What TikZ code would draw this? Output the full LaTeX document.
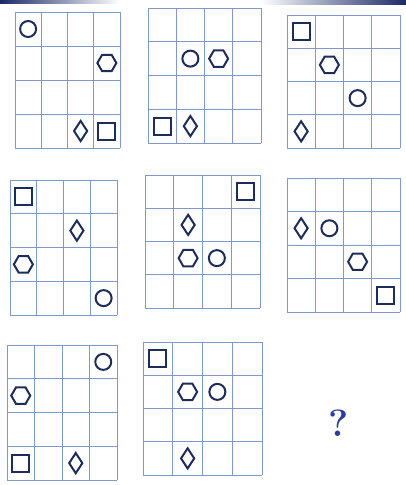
\documentclass[tikz,border=0pt]{standalone}
\usetikzlibrary{shapes.geometric}
\definecolor{gridc}{HTML}{7F99CF}
\definecolor{shp}{HTML}{1E2C5C}
\definecolor{quest}{HTML}{2B3E9E}
\definecolor{rim}{HTML}{1A2A66}

\begin{document}
\begin{tikzpicture}[
  x=1pt, y=-1pt,
  gline/.style={gridc, line width=1pt},
  circ/.style={circle, draw=shp, line width=2pt, minimum size=16pt, inner sep=0pt},
  hexa/.style={regular polygon, regular polygon sides=6, draw=shp, line width=2pt,
    minimum size=19pt, inner sep=0pt},
  diam/.style={diamond, draw=shp, line width=2pt, minimum width=14pt,
    minimum height=21pt, inner sep=0pt},
  sqr/.style={rectangle, draw=shp, line width=2pt, minimum size=17pt, inner sep=0pt},
]
\useasboundingbox (0,0) rectangle (406,485);

% ---- dark rim of the photographed page ----
\shade[left color=rim, right color=white] (0,0) rectangle (120,3);
\shade[left color=white, right color=rim] (260,0) rectangle (406,4);

% ---- the eight 4x4 grids: number / top-left / size / shapes (kind/col/row) ----
\foreach \gn/\gx/\gy/\gw/\gh/\items in {
    1/15/12/105/136/{circ/0/0,hexa/3/1,diam/2/3,sqr/3/3},
    2/148/8/113/135/{circ/1/1,hexa/2/1,sqr/0/3,diam/1/3},
    3/287/15/113/133/{sqr/0/0,hexa/1/1,circ/2/2,diam/0/3},
    4/10/180/107/135/{sqr/0/0,diam/2/1,hexa/0/2,circ/3/3},
    5/145/175/115/133/{sqr/3/0,diam/1/1,hexa/1/2,circ/2/2},
    6/287/178/113/134/{diam/0/1,circ/1/1,hexa/2/2,sqr/3/3},
    7/7/345/110/135/{circ/3/0,hexa/0/1,sqr/0/3,diam/2/3},
    8/143/342/119/133/{sqr/0/0,hexa/1/1,circ/2/1,diam/1/3}} {
  \begin{scope}[shift={(\gx,\gy)}, x={\gw pt/4}, y={-\gh pt/4}]
    \foreach \i in {0,...,4} {
      \draw[gline] (\i,0) -- (\i,4);
      \draw[gline] (0,\i) -- (4,\i);
    }
    \foreach \s/\c/\r in \items {
      \node[\s] (g\gn\s) at (\c+0.5,\r+0.5) {};
    }
  \end{scope}
}

% ---- the missing ninth grid ----
\node[font=\fontsize{38}{38}\selectfont\bfseries, text=quest, inner sep=0pt] (ask) at (339,423) {?};

\end{tikzpicture}
\end{document}
